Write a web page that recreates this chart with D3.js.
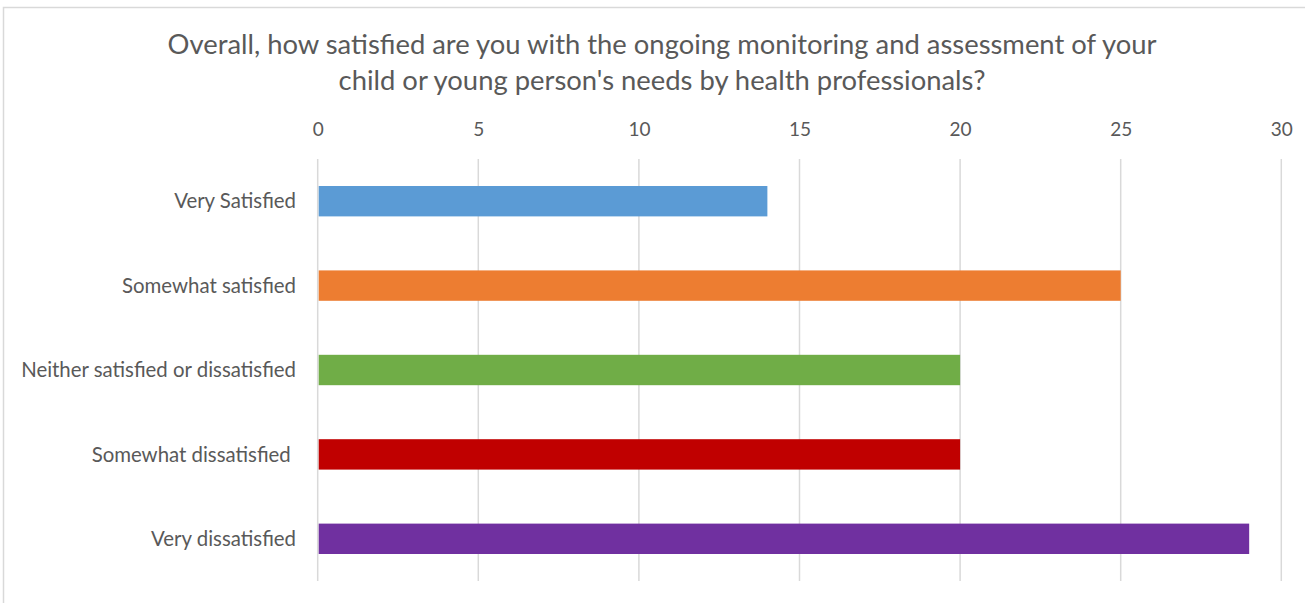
<!DOCTYPE html>
<meta charset="utf-8">
<html>
<style>
body { margin: 0; background: #fff; }
text { font-family: Lato, "Open Sans", sans-serif; fill: #595959; }
.grid line { stroke: #d9d9d9; stroke-width: 1.5px; }
</style>
<body>
<script src="https://cdn.jsdelivr.net/npm/d3@7"></script>
<script>

// data
var categories = ["Very Satisfied", "Somewhat satisfied", "Neither satisfied or dissatisfied", "Somewhat dissatisfied ", "Very dissatisfied"];
var values = [14, 25, 20, 20, 29];
var colors = ["#5b9bd5", "#ed7d31", "#70ad47", "#c00000", "#7030a0"];
var ticks = [0, 5, 10, 15, 20, 25, 30];
var titleLines = ["Overall, how satisfied are you with the ongoing monitoring and assessment of your",
                  "child or young person's needs by health professionals?"];

var width = 1305, height = 603;
var plotLeft = 317.7, plotRight = 1281.3, plotTop = 159, plotBottom = 581;

var svg = d3.select("body").append("svg")
    .attr("width", width)
    .attr("height", height);

// chart border
svg.append("rect")
    .attr("x", 3.5).attr("y", 7.5)
    .attr("width", 1330).attr("height", 620)
    .attr("fill", "none")
    .attr("stroke", "#d9d9d9")
    .attr("stroke-width", 1.5);

var x = d3.scaleLinear().domain([0, 30]).range([plotLeft, plotRight]);
var y = d3.scaleBand().domain(categories).range([plotTop, plotBottom])
    .paddingInner(0.64).paddingOuter(0.32);

// title
svg.append("g").selectAll("text")
    .data(titleLines)
    .enter().append("text")
    .attr("x", 662)
    .attr("y", function(d, i) { return 54 + i * 35.5; })
    .attr("text-anchor", "middle")
    .style("font-size", "27.4px")
    .text(function(d) { return d; });

// gridlines
svg.append("g").attr("class", "grid")
    .selectAll("line")
    .data(ticks)
    .enter().append("line")
    .attr("x1", function(d) { return x(d); })
    .attr("x2", function(d) { return x(d); })
    .attr("y1", plotTop)
    .attr("y2", plotBottom);

// top axis
var xAxis = svg.append("g")
    .attr("transform", "translate(0," + 136 + ")")
    .call(d3.axisTop(x).tickValues(ticks).tickSize(0).tickPadding(0));
xAxis.select(".domain").remove();
xAxis.attr("font-family", null).attr("font-size", null);
xAxis.selectAll("text")
    .style("font-size", "19px").attr("dy", 0);

// category labels
svg.append("g").selectAll("text")
    .data(categories)
    .enter().append("text")
    .attr("x", 296)
    .attr("y", function(d) { return y(d) + y.bandwidth() / 2; })
    .attr("dy", "0.35em")
    .attr("text-anchor", "end")
    .style("font-size", "20.4px")
    .style("white-space", "pre")
    .text(function(d) { return d; });

// bars
svg.append("g").selectAll("rect")
    .data(values)
    .enter().append("rect")
    .attr("x", x(0) + 1)
    .attr("y", function(d, i) { return y(categories[i]); })
    .attr("width", function(d) { return x(d) - x(0) - 1; })
    .attr("height", y.bandwidth())
    .attr("fill", function(d, i) { return colors[i]; });

</script>
</body>
</html>
